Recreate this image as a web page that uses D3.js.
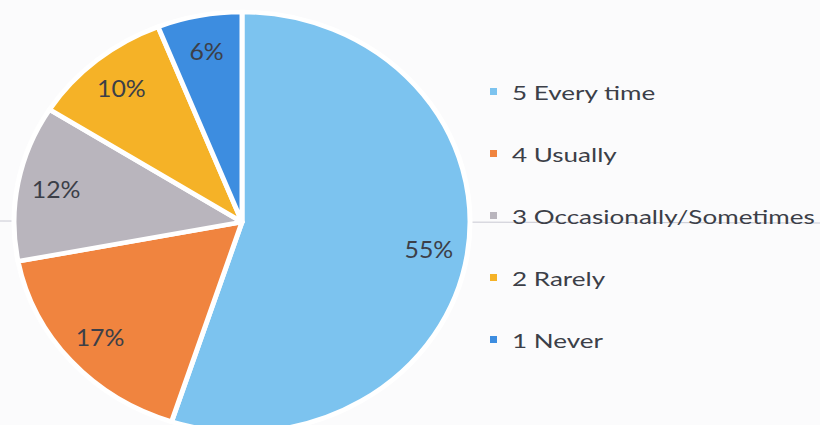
<!DOCTYPE html>
<html>
<head>
<meta charset="utf-8">
<script src="https://cdn.jsdelivr.net/npm/d3@7"></script>
<style>
  body { margin: 0; background: #fbfbfc; }
  svg { display: block; }
</style>
</head>
<body>
<svg id="chart"></svg>
<script>
// chart data
const categories = ["5 Every time", "4 Usually", "3 Occasionally/Sometimes", "2 Rarely", "1 Never"];
const values = [55, 17, 12, 10, 6];
const labels = ["55%", "17%", "12%", "10%", "6%"];
const colors = ["#7cc3ef", "#f0843f", "#b9b5bd", "#f5b227", "#3d8de0"];

const width = 820;
const height = 425;

const svg = d3.select("#chart").attr("width", width).attr("height", height);

// faint scan line across the page
svg.append("line")
    .attr("x1", 0).attr("x2", width)
    .attr("y1", 221).attr("y2", 223)
    .attr("stroke", "#c9c9d3")
    .attr("stroke-width", 1);

// pie is slightly squashed in the scan, so use an ellipse
const cx = 242, cy = 222;
const rx = 228, ry = 210;
const squash = ry / rx;

const data = categories.map((c, i) => ({ name: c, value: values[i], label: labels[i], color: colors[i] }));

const pie = d3.pie()
    .value(d => d.value)
    .sort(null);

const arcs = pie(data);

const arc = d3.arc().innerRadius(0).outerRadius(rx);
const labelArc = d3.arc().innerRadius(rx * 0.83).outerRadius(rx * 0.83);

const pieGroup = svg.append("g")
    .attr("transform", `translate(${cx},${cy}) scale(1,${squash})`);

pieGroup.selectAll("path")
    .data(arcs)
    .enter()
    .append("path")
    .attr("d", arc)
    .attr("fill", d => d.data.color)
    .attr("stroke", "#ffffff")
    .attr("stroke-width", 5)
    .attr("stroke-linejoin", "round");

// percentage labels (scan makes text look wider, stretch a bit)
svg.append("g")
    .selectAll("text")
    .data(arcs)
    .enter()
    .append("text")
    .attr("transform", d => `translate(${cx + labelArc.centroid(d)[0]},${cy + labelArc.centroid(d)[1] * squash}) scale(1.08,1)`)
    .attr("text-anchor", "middle")
    .attr("dominant-baseline", "central")
    .attr("font-family", "Lato, 'Open Sans', sans-serif")
    .attr("font-size", "23px")
    .attr("fill", "#3c3f48")
    .text(d => d.data.label);

// legend
const legendY = d3.scalePoint()
    .domain(categories)
    .range([92, 340]);

const legend = svg.append("g");

const item = legend.selectAll("g")
    .data(data)
    .enter()
    .append("g")
    .attr("transform", d => `translate(0,${legendY(d.name)})`);

item.append("rect")
    .attr("x", 490)
    .attr("y", -4)
    .attr("width", 7)
    .attr("height", 7)
    .attr("fill", d => d.color);

const legendText = item.append("text")
    .attr("x", 0)
    .attr("y", 0)
    .attr("dominant-baseline", "central")
    .attr("font-family", "Lato, 'Open Sans', sans-serif")
    .attr("font-size", "20px")
    .attr("fill", "#3c3f48")
    .text(d => d.name);

// stretch legend text so the longest entry ends near the right edge
let maxLen = 0;
legendText.each(function () {
    maxLen = Math.max(maxLen, this.getComputedTextLength());
});
const stretch = maxLen > 0 ? 303 / maxLen : 1;
legendText.attr("transform", `translate(512,0) scale(${stretch},1)`);
</script>
</body>
</html>
